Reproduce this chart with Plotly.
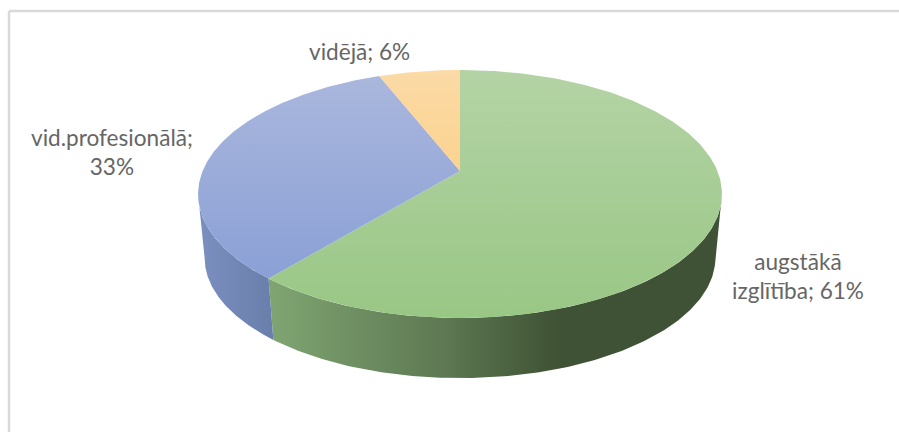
import numpy as np
import plotly.graph_objects as go

# Data
categories = ["augstākā izglītība", "vid.profesionālā", "vidējā"]
shares = [61, 33, 6]
label_lines = [["augstākā", "izglītība; 61%"], ["vid.profesionālā;", "33%"], ["vidējā; 6%"]]

# Colours
top_scales = [["#b4d3a5", "#99c785"], ["#abb8dd", "#849bd4"], ["#fbdaa6", "#fdc96f"]]
side_scales = [
    [[0, "#7fa471"], [0.6, "#5d7852"], [0.95, "#425637"], [1, "#3f5236"]],
    [[0, "#7b90c0"], [1, "#6a7eab"]],
    [[0, "#c8a25c"], [1, "#c8a25c"]],
]

# Projection of the round pie onto the canvas (perspective, seen from above)
W, H = 899, 432
CX, CY = 460.0, 171.0
A, B, K = 119.7, 257.4, 0.1855
BOTTOM_SCALE, BOTTOM_DROP = 0.975, 64.5
TOP_Y, FRONT_Y = 70, 318


def top_xy(theta):
    u, v = np.sin(theta), -np.cos(theta)
    d = 1 - K * v
    return CX + B * u / d, CY + A * v / d


def bottom_xy(theta):
    x, y = top_xy(theta)
    return CX + BOTTOM_SCALE * (x - CX), CY + 0.97 * (y - CY) + BOTTOM_DROP


fractions = np.array(shares, dtype=float) / sum(shares)
edges = np.concatenate([[0], np.cumsum(fractions)]) * 2 * np.pi
sil_right = np.arccos(-K)
sil_left = 2 * np.pi - sil_right

fig = go.Figure()

# Side walls
for i, name in enumerate(categories):
    lo, hi = max(edges[i], sil_right), min(edges[i + 1], sil_left)
    if hi <= lo:
        continue
    t = np.linspace(lo, hi, 160)
    xt, yt = top_xy(t)
    xb, yb = bottom_xy(t)
    xs = np.concatenate([xt, xb[::-1], xt[:1]])
    ys = np.concatenate([yt, yb[::-1], yt[:1]])
    if i == 0:
        start, stop = bottom_xy(edges[1])[0], 560
    else:
        start, stop = xs.min(), xs.max()
    fig.add_trace(go.Scatter(
        x=xs, y=ys, mode="lines", line=dict(width=0), fill="toself",
        fillgradient=dict(type="horizontal", colorscale=side_scales[i], start=start, stop=stop),
        hoverinfo="skip", showlegend=False,
    ))

# Top face
for i, name in enumerate(categories):
    t = np.linspace(edges[i], edges[i + 1], 240)
    xt, yt = top_xy(t)
    xs = np.concatenate([[CX], xt, [CX]])
    ys = np.concatenate([[CY], yt, [CY]])
    fig.add_trace(go.Scatter(
        x=xs, y=ys, mode="lines", line=dict(width=0), fill="toself",
        fillgradient=dict(type="vertical", colorscale=[[0, top_scales[i][0]], [1, top_scales[i][1]]],
                          start=TOP_Y, stop=FRONT_Y),
        name=name, hoverinfo="name", showlegend=False,
    ))

# Data labels
label_pos = [(798, 276), (111.5, 151.5), (359.5, 51)]
annotations = [
    dict(x=p[0], y=p[1], text="<br>".join(lines), showarrow=False, xref="x", yref="y",
         font=dict(family="Lato, Carlito, sans-serif", size=22.6, color="#666666"), align="center")
    for p, lines in zip(label_pos, label_lines)
]

# Frame, only the top and left edges are inside the picture
frame = dict(type="line", xref="x", yref="y", line=dict(color="#d9d9d9", width=2.5), layer="below")
shapes = [dict(frame, x0=9, x1=W, y0=11, y1=11), dict(frame, x0=9, x1=9, y0=11, y1=H)]

fig.update_layout(
    width=W, height=H, margin=dict(l=0, r=0, t=0, b=0),
    paper_bgcolor="white", plot_bgcolor="white", showlegend=False,
    xaxis=dict(range=[0, W], visible=False, fixedrange=True),
    yaxis=dict(range=[H, 0], visible=False, fixedrange=True),
    annotations=annotations, shapes=shapes,
)
fig.write_html("out.html", config=dict(displayModeBar=False),
               post_script="document.body.style.margin='0';document.body.style.overflow='hidden';")
